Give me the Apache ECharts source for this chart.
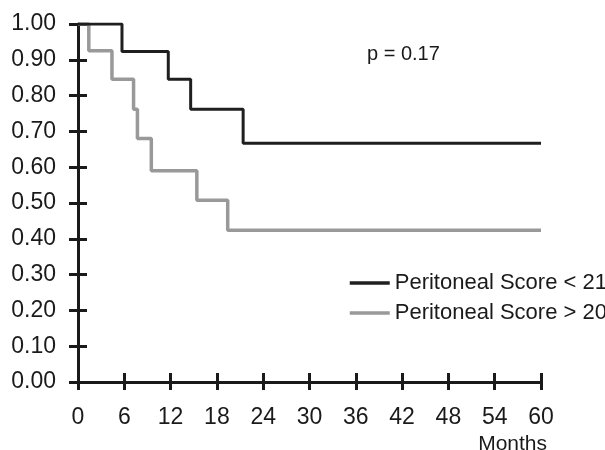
<!DOCTYPE html>
<html>
<head>
<meta charset="utf-8">
<script src="https://cdn.jsdelivr.net/npm/echarts@6/dist/echarts.min.js"></script>
<style>html,body{margin:0;padding:0;background:#fff;}#c{width:605px;height:450px;}</style>
</head>
<body>
<div id="c"></div>
<script>
var lowScoreTimes  = [0, 5.7, 11.7, 14.6, 21.4, 60];
var lowScoreSurv   = [1.00, 0.923, 0.846, 0.762, 0.667, 0.667];
var highScoreTimes = [0, 1.4, 4.4, 7.2, 7.7, 9.5, 15.4, 19.4, 60];
var highScoreSurv  = [1.00, 0.925, 0.846, 0.762, 0.68, 0.59, 0.508, 0.424, 0.424];
var seriesNames = ['Peritoneal Score < 21', 'Peritoneal Score > 20'];
var pText = 'p = 0.17';
var xName = 'Months';

function pairs(t, s) { return t.map(function (v, i) { return [v, s[i]]; }); }

var FONT = 'Liberation Sans, Arial, Helvetica, sans-serif';
var chart = echarts.init(document.getElementById('c'), null, {renderer: 'canvas'});
var axisCommon = {
  type: 'value', splitLine: {show: false}
};
chart.setOption({
  animation: false,
  backgroundColor: '#ffffff',
  grid: {left: 78, right: 64, top: 24, bottom: 68},
  xAxis: [
    Object.assign({}, axisCommon, {
      min: 0, max: 60, interval: 6, position: 'bottom',
      axisLine: {show: true, lineStyle: {color: '#1a1a1a', width: 3}},
      axisTick: {show: true, length: 8, lineStyle: {color: '#1a1a1a', width: 3}},
      axisLabel: {margin: 24, fontSize: 23, color: '#1a1a1a', fontFamily: FONT}
    }),
    Object.assign({}, axisCommon, {
      min: 0, max: 60, interval: 6, position: 'bottom',
      axisLine: {show: false},
      axisTick: {show: true, inside: true, length: 9, lineStyle: {color: '#1a1a1a', width: 3}},
      axisLabel: {show: false}
    })
  ],
  yAxis: [
    Object.assign({}, axisCommon, {
      min: 0, max: 1, interval: 0.1, position: 'left',
      axisLine: {show: true, lineStyle: {color: '#1a1a1a', width: 3}},
      axisTick: {show: true, length: 9, lineStyle: {color: '#1a1a1a', width: 3}},
      axisLabel: {margin: 22, fontSize: 23, color: '#1a1a1a', fontFamily: FONT,
        formatter: function (v) { return v.toFixed(2); }}
    }),
    Object.assign({}, axisCommon, {
      min: 0, max: 1, interval: 0.1, position: 'left',
      axisLine: {show: false},
      axisTick: {show: true, inside: true, length: 9, lineStyle: {color: '#1a1a1a', width: 3}},
      axisLabel: {show: false}
    })
  ],
  legend: {
    orient: 'vertical', left: 348, top: 272, padding: 0,
    itemWidth: 40, itemHeight: 22, itemGap: 8,
    itemStyle: {opacity: 0},
    lineStyle: {width: 3.5},
    textStyle: {fontSize: 22, color: '#1a1a1a', fontFamily: FONT, lineHeight: 22},
    data: seriesNames
  },
  series: [
    {name: seriesNames[0], type: 'line', step: 'end', symbol: 'none',
     data: pairs(lowScoreTimes, lowScoreSurv), z: 3,
     lineStyle: {color: '#1f1f1f', width: 3}, itemStyle: {color: '#1f1f1f'}},
    {name: seriesNames[1], type: 'line', step: 'end', symbol: 'none',
     data: pairs(highScoreTimes, highScoreSurv), z: 2,
     lineStyle: {color: '#999999', width: 3.5}, itemStyle: {color: '#999999'}}
  ],
  graphic: [
    {type: 'text', left: 367, top: 44, style: {text: pText, fill: '#1a1a1a', font: '20px ' + FONT}},
    {type: 'text', right: 58, top: 434, style: {text: xName, fill: '#1a1a1a', font: '21px ' + FONT}}
  ]
});
</script>
</body>
</html>
